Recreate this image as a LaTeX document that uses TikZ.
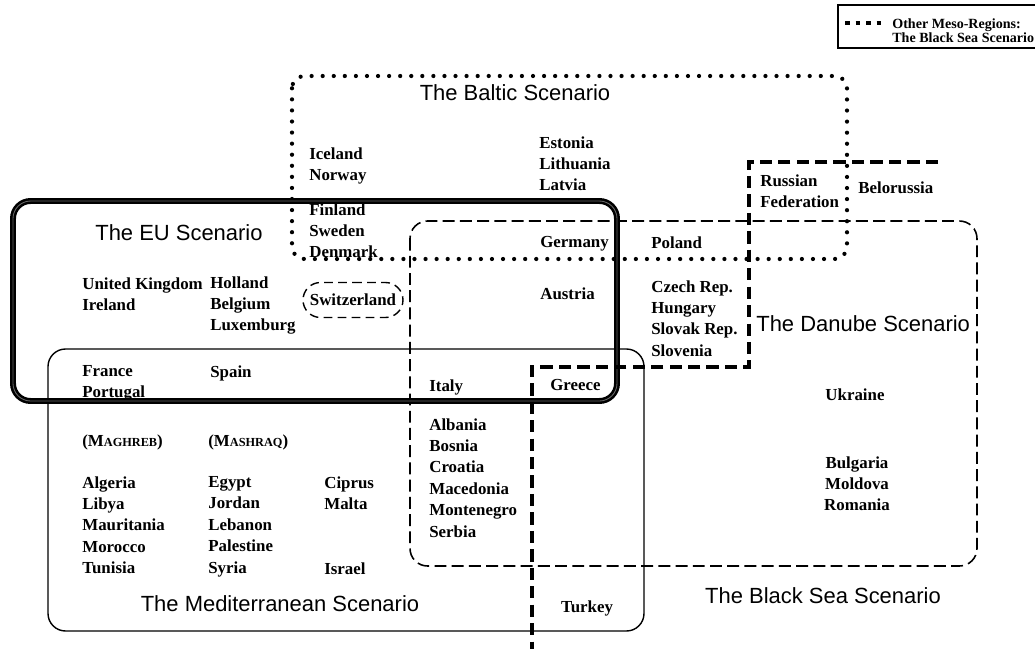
\documentclass[tikz,border=0pt]{standalone}
\usepackage{fontspec}
\setmainfont{Liberation Serif}
\setsansfont{Liberation Sans}
\usetikzlibrary{shapes.misc}
\tikzset{>=latex}
\tikzset{
  ctry/.style={anchor=north west,inner sep=0pt,align=left,font=\fontsize{9.6}{12.2}\selectfont\bfseries},
  ttl/.style={inner sep=0pt,font=\sffamily\fontsize{12.5}{14}\selectfont},
  baltic/.style={line width=2.4pt,line cap=round,dash pattern=on 0pt off 6.3pt,rounded corners=7pt},
  eu/.style={line width=1.45pt,double=black!60,double distance=0.5pt,rounded corners=10pt},
  med/.style={line width=0.8pt,rounded corners=10pt},
  danube/.style={line width=0.9pt,dash pattern=on 6.8pt off 3pt,rounded corners=10pt},
  blacksea/.style={line width=2.3pt,dash pattern=on 7pt off 3.5pt},
  swiss/.style={draw,rounded rectangle,line width=0.8pt,dash pattern=on 5pt off 3pt,minimum width=2cm,minimum height=0.7cm,inner sep=0pt,font=\fontsize{9.6}{12.2}\selectfont\bfseries},
}
\newcommand{\smcap}[2]{#1{\fontsize{7}{8}\selectfont #2}}

\begin{document}
\begin{tikzpicture}[x=0.02cm,y=-0.02cm]
\clip (0,0) rectangle (1035,649);
\fill[white] (0,0) rectangle (1035,649);

% countries
\node[ctry] (iceland) at (309,147) {Iceland\\Norway};
\node[ctry] (estonia) at (539,136) {Estonia\\Lithuania\\Latvia};
\node[ctry] (finland) at (309,203) {Finland\\Sweden\\Denmark};
\node[ctry] (russia) at (760,174) {Russian\\Federation};
\node[ctry] (belorussia) at (858,181) {Belorussia};
\node[ctry] (germany) at (540,236) {Germany};
\node[ctry] (poland) at (651,236) {Poland};
\node[ctry] (uk) at (82,277) {United Kingdom\\Ireland};
\node[ctry] (holland) at (210,276) {Holland\\Belgium\\Luxemburg};
\node[swiss] (swiss) at (353,300) {Switzerland};
\node[ctry] (austria) at (540,287) {Austria};
\node[ctry] (czech) at (651,280) {Czech Rep.\\Hungary\\Slovak Rep.\\Slovenia};
\node[ctry] (france) at (82,365) {France\\Portugal};
\node[ctry] (spain) at (210,365) {Spain};
\node[ctry] (italy) at (429,379) {Italy};
\node[ctry] (greece) at (550,379) {Greece};
\node[ctry,anchor=north] (ukraine) at (855,388) {Ukraine};
\node[ctry] (maghreb) at (82,434) {(\smcap{M}{AGHREB})};
\node[ctry] (mashraq) at (208,434) {(\smcap{M}{ASHRAQ})};
\node[ctry] (algeria) at (82,476) {Algeria\\Libya\\Mauritania\\Morocco\\Tunisia};
\node[ctry] (egypt) at (208,476) {Egypt\\Jordan\\Lebanon\\Palestine\\Syria};
\node[ctry] (ciprus) at (324,476) {Ciprus\\Malta};
\node[ctry] (israel) at (324,562) {Israel};
\node[ctry] (albania) at (429,418) {Albania\\Bosnia\\Croatia\\Macedonia\\Montenegro\\Serbia};
\node[ctry,anchor=north,align=center] (bulgaria) at (857,456) {Bulgaria\\Moldova\\Romania};
\node[ctry,anchor=north] (turkey) at (587,600) {Turkey};

% scenario titles
\node[ttl] (balticttl) at (515,93) {The Baltic Scenario};
\node[ttl,anchor=west] (euttl) at (95,233) {The EU Scenario};
\node[ttl,anchor=west] (danubettl) at (756,324) {The Danube Scenario};
\node[ttl] (medttl) at (280,604) {The Mediterranean Scenario};
\node[ttl] (blackttl) at (823,596) {The Black Sea Scenario};

% borders
\draw[med] (48,349) rectangle (644,631);
\draw[danube] (410,221) rectangle (977,566);
\draw[baltic] (292,76) rectangle (847,259);
\draw[eu] (13,201) rectangle (617,401);

\coordinate (bsa) at (938,162);
\coordinate (bsb) at (749,162);
\coordinate (bsc) at (749,367);
\coordinate (bsd) at (532,367);
\coordinate (bse) at (532,655);
\draw[blacksea] (bsa) -- (bsb) -- (bsc) -- (bsd) -- (bse);

% legend
\draw[line width=0.6pt] (838,5) rectangle (1045,48);
\coordinate (lega) at (845,23);
\coordinate (legb) at (884,23);
\draw[blacksea,line width=2.6pt,dash pattern=on 2.6pt off 3.4pt] (lega) -- (legb);
\node[anchor=north west,inner sep=0pt,align=left,font=\fontsize{8}{6.3}\selectfont\bfseries] (legtxt) at (892,18) {Other Meso-Regions:\\The Black Sea Scenario};

\end{tikzpicture}
\end{document}
